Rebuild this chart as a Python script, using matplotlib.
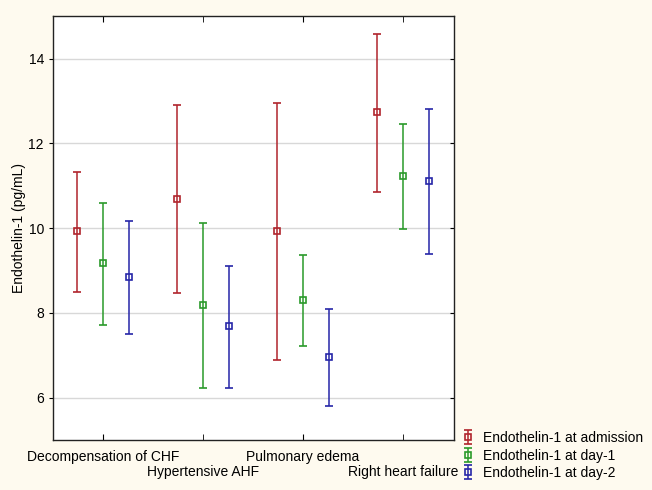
import matplotlib.pyplot as plt
import numpy as np

plt.rcParams['font.family'] = ['Liberation Sans', 'DejaVu Sans']

categories = ['Decompensation of CHF', 'Hypertensive AHF', 'Pulmonary edema', 'Right heart failure']
series = ['Endothelin-1 at admission', 'Endothelin-1 at day-1', 'Endothelin-1 at day-2']

# means and confidence limits per series, one value per category
means = [
    [9.93, 10.69, 9.93, 12.73],
    [9.17, 8.19, 8.31, 11.22],
    [8.84, 7.68, 6.97, 11.10],
]
lower = [
    [8.49, 8.48, 6.88, 10.85],
    [7.71, 6.23, 7.21, 9.98],
    [7.51, 6.23, 5.80, 9.39],
]
upper = [
    [11.32, 12.90, 12.96, 14.58],
    [10.60, 10.12, 9.37, 12.45],
    [10.17, 9.10, 8.09, 12.81],
]

colors = ['#B0242C', '#2A9A2A', '#2626A8']
offsets = [-0.26, 0.0, 0.26]

fig = plt.figure(figsize=(6.52, 4.9), dpi=100)
fig.patch.set_facecolor('#FEFAEF')
ax = fig.add_axes([0.0813, 0.102, 0.615, 0.865])

x = np.arange(len(categories))
for i in range(3):
    m = np.array(means[i])
    lo = m - np.array(lower[i])
    hi = np.array(upper[i]) - m
    ax.errorbar(x + offsets[i], m, yerr=[lo, hi], fmt='s', color=colors[i],
                mfc='none', mec=colors[i], ms=5, mew=1.2, elinewidth=1.1,
                capsize=3, capthick=1.1, label=series[i])

ax.set_xlim(-0.5, 3.51)
ax.set_ylim(5, 15)
ax.set_yticks([6, 8, 10, 12, 14])
ax.yaxis.grid(True, color='#d8d8d8', lw=1)
ax.set_axisbelow(True)

# staggered category labels: even ones on major ticks, odd ones on minor ticks further down
ax.set_xticks(x[::2])
ax.set_xticklabels(categories[::2], fontsize=10)
ax.set_xticks(x[1::2], minor=True)
ax.set_xticklabels(categories[1::2], minor=True, fontsize=10)
ax.tick_params(axis='x', which='both', direction='in', top=True, length=4)
ax.tick_params(axis='x', which='major', pad=7)
ax.tick_params(axis='x', which='minor', pad=18)
ax.tick_params(axis='y', direction='out', length=3, labelsize=10)
ax.tick_params(axis='y', which='both', right=True)
for t in ax.yaxis.get_ticklines()[1::2]:
    t.set_marker(0)
ax.set_ylabel('Endothelin-1 (pg/mL)', fontsize=10, labelpad=2)
for s in ax.spines.values():
    s.set_color('#222222')
    s.set_linewidth(1.0)

ax.legend(loc='lower left', bbox_to_anchor=(0.696, 0.009), bbox_transform=fig.transFigure,
          frameon=False, fontsize=10, handlelength=1.2, handletextpad=0.5,
          labelspacing=0.25, borderaxespad=0)

fig.savefig('out.png', dpi=100, facecolor=fig.get_facecolor())
